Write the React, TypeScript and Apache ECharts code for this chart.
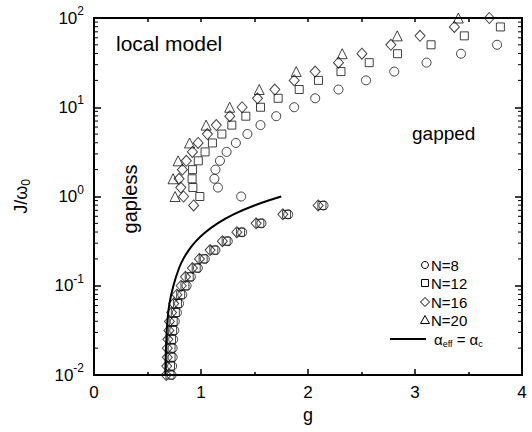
import React, { useEffect, useRef } from "react";
import * as echarts from "echarts";

const FONT = "'Liberation Sans', Arial, Helvetica, sans-serif";

// lower (gapless/gapped boundary) branch, J/omega0 values
const lowerJ = [0.01, 0.0126, 0.0158, 0.02, 0.0251, 0.0316, 0.0398, 0.0501, 0.0631, 0.0794, 0.1, 0.126, 0.158, 0.2, 0.251, 0.316, 0.398, 0.501, 0.631, 0.794];
const lowerG8 = [0.725, 0.73, 0.735, 0.735, 0.74, 0.75, 0.755, 0.775, 0.795, 0.825, 0.865, 0.905, 0.97, 1.035, 1.135, 1.25, 1.385, 1.565, 1.815, 2.145];
const lowerG12 = [0.71, 0.715, 0.72, 0.72, 0.725, 0.735, 0.74, 0.76, 0.78, 0.81, 0.85, 0.89, 0.955, 1.02, 1.12, 1.235, 1.37, 1.55, 1.8, 2.13];
const lowerG16 = [0.675, 0.68, 0.685, 0.685, 0.69, 0.7, 0.705, 0.725, 0.745, 0.775, 0.815, 0.855, 0.92, 0.985, 1.085, 1.2, 1.335, 1.515, 1.765, 2.095];

// upper branch
const upperJ8 = [1.0, 1.26, 1.58, 2, 2.51, 3.16, 3.98, 5.01, 6.31, 7.94, 10, 12.6, 15.8, 20, 25.1, 31.6, 39.8, 50.1];
const upperG8 = [1.375, 1.158, 1.125, 1.135, 1.177, 1.239, 1.326, 1.434, 1.556, 1.703, 1.871, 2.067, 2.285, 2.542, 2.806, 3.108, 3.43, 3.767];
const upperJ12 = [1, 1.26, 1.58, 2, 2.51, 3.16, 3.98, 5.01, 6.31, 7.94, 10, 12.6, 15.8, 20, 25.1, 31.6, 39.8, 50.1, 63.1, 79.4];
const upperG12 = [0.989, 0.924, 0.917, 0.921, 0.975, 1.038, 1.107, 1.195, 1.288, 1.419, 1.556, 1.721, 1.918, 2.098, 2.308, 2.572, 2.837, 3.15, 3.461, 3.798];
const upperJ16 = [0.794, 1, 1.26, 1.58, 2, 2.51, 3.16, 3.98, 5.01, 6.31, 7.94, 10, 12.6, 15.8, 20, 25.1, 31.6, 39.8, 50.1, 63.1, 79.4, 100];
const upperG16 = [0.931, 0.837, 0.811, 0.795, 0.826, 0.863, 0.92, 0.973, 1.06, 1.143, 1.269, 1.384, 1.528, 1.69, 1.871, 2.067, 2.285, 2.504, 2.775, 3.047, 3.368, 3.695];
const upperJ20 = [1, 1.58, 2.51, 3.98, 6.31, 10, 15.8, 25.1, 39.8, 63.1, 100];
const upperG20 = [0.758, 0.739, 0.786, 0.893, 1.048, 1.268, 1.544, 1.89, 2.32, 2.834, 3.405];

// alpha_eff = alpha_c curve
const curveG = [0.666, 0.67, 0.676, 0.686, 0.705, 0.742, 0.795, 0.835, 0.886, 0.953, 1.041, 1.155, 1.304, 1.498, 1.75];
const curveJ = [0.01, 0.0158, 0.0251, 0.0398, 0.0631, 0.1, 0.158, 0.2, 0.251, 0.316, 0.398, 0.501, 0.631, 0.794, 1.0];

// log-axis minor tick positions
const yMinorTicks = [0.02, 0.03, 0.04, 0.05, 0.06, 0.07, 0.08, 0.09, 0.2, 0.3, 0.4, 0.5, 0.6, 0.7, 0.8, 0.9, 2, 3, 4, 5, 6, 7, 8, 9, 20, 30, 40, 50, 60, 70, 80, 90];

const legendLabels = ["N=8", "N=12", "N=16", "N=20"];

const zip = (g: number[], j: number[]) => g.map((v, i) => [v, j[i]]);

export default function App() {
  const ref = useRef<HTMLDivElement>(null);
  useEffect(() => {
    if (!ref.current) return;
    const chart = echarts.init(ref.current, undefined, { renderer: "svg" });
    const mk = { color: "transparent", borderColor: "#111", borderWidth: 1 };
    const scatterBase = { type: "scatter", clip: false, itemStyle: mk, silent: true };
    const lx = 425;
    const rows = [265, 283, 302, 320];
    const option: any = {
      animation: false,
      backgroundColor: "#fff",
      grid: { left: 94, right: 10, top: 18, bottom: 57 },
      xAxis: [
        {
          type: "value", min: 0, max: 4, interval: 1, position: "bottom",
          name: "g", nameLocation: "middle", nameGap: 28,
          nameTextStyle: { fontFamily: FONT, fontSize: 18, color: "#000" },
          axisLine: { show: true, onZero: false, lineStyle: { color: "#000", width: 2 } },
          axisTick: { show: true, inside: true, length: 6, lineStyle: { color: "#000", width: 1.5 } },
          minorTick: { show: true, splitNumber: 2, length: 3, lineStyle: { color: "#000", width: 1.5 } },
          axisLabel: { fontFamily: FONT, fontSize: 17, color: "#000", margin: 9 },
          splitLine: { show: false },
        },
        {
          type: "value", min: 0, max: 4, interval: 0.5, position: "top",
          axisLine: { show: true, onZero: false, lineStyle: { color: "#000", width: 2 } },
          axisTick: { show: true, inside: true, length: 4, lineStyle: { color: "#000", width: 1.5 } },
          axisLabel: { show: false },
          splitLine: { show: false },
        },
      ],
      yAxis: [
        {
          type: "log", logBase: 10, min: 0.01, max: 100, interval: 1, position: "left",
          name: "{a|J/ω}{b|0}", nameLocation: "middle", nameRotate: 90, nameGap: 62,
          nameTextStyle: {
            color: "#000",
            rich: {
              a: { fontFamily: FONT, fontSize: 18, lineHeight: 22, color: "#000" },
              b: { fontFamily: FONT, fontSize: 12, lineHeight: 12, verticalAlign: "bottom", color: "#000" },
            },
          },
          axisLine: { show: true, onZero: false, lineStyle: { color: "#000", width: 2 } },
          axisTick: { show: true, inside: true, length: 7, lineStyle: { color: "#000", width: 1.5 } },
          axisLabel: {
            margin: 10,
            formatter: (v: number) => `{b|10}{s|${Math.round(Math.log10(v))}}`,
            rich: {
              b: { fontFamily: FONT, fontSize: 17, lineHeight: 26, color: "#000" },
              s: { fontFamily: FONT, fontSize: 12, lineHeight: 12, verticalAlign: "top", color: "#000" },
            },
          },
          splitLine: { show: false },
        },
        {
          type: "log", logBase: 10, min: 0.01, max: 100, interval: 1, position: "right",
          axisLine: { show: true, onZero: false, lineStyle: { color: "#000", width: 2 } },
          axisTick: { show: true, inside: true, length: 7, lineStyle: { color: "#000", width: 1.5 } },
          axisLabel: { show: false },
          splitLine: { show: false },
        },
      ],
      series: [
        {
          type: "custom",
          xAxisIndex: 0, yAxisIndex: 0, silent: true, clip: false,
          data: yMinorTicks.map((v) => [0, v]),
          encode: { x: 0, y: 1 },
          renderItem: (params: any, api: any) => {
            const y = api.coord([0, api.value(1)])[1];
            const cs = params.coordSys;
            const st = { stroke: "#000", lineWidth: 1 };
            return {
              type: "group",
              children: [
                { type: "line", shape: { x1: cs.x, y1: y, x2: cs.x + 4, y2: y }, style: st },
                { type: "line", shape: { x1: cs.x + cs.width - 4, y1: y, x2: cs.x + cs.width, y2: y }, style: st },
              ],
            };
          },
        },
        {
          type: "line", name: "curve", data: zip(curveG, curveJ), showSymbol: false, smooth: 0.4,
          lineStyle: { color: "#000", width: 2 }, silent: true,
        },
        { ...scatterBase, name: "N=8", symbol: "circle", symbolSize: 9, data: [...zip(lowerG8, lowerJ), ...zip(upperG8, upperJ8)] },
        { ...scatterBase, name: "N=12", symbol: "rect", symbolSize: 8, data: [...zip(lowerG12, lowerJ), ...zip(upperG12, upperJ12)] },
        { ...scatterBase, name: "N=16", symbol: "diamond", symbolSize: [10, 11], data: [...zip(lowerG16, lowerJ), ...zip(upperG16, upperJ16)] },
        { ...scatterBase, name: "N=20", symbol: "triangle", symbolSize: 10, data: zip(upperG20, upperJ20) },
      ],
      graphic: [
        { type: "text", left: 116, top: 33, style: { text: "local model", fontFamily: FONT, fontSize: 21, fill: "#000" } },
        { type: "text", left: 412, top: 124, style: { text: "gapped", fontFamily: FONT, fontSize: 19, fill: "#000" } },
        {
          type: "text", x: 130, y: 199, rotation: Math.PI / 2,
          style: { text: "gapless", fontFamily: FONT, fontSize: 20, fill: "#000", align: "center", verticalAlign: "middle" },
        },
        { type: "circle", shape: { cx: lx, cy: rows[0], r: 3.5 }, style: { fill: "none", stroke: "#000", lineWidth: 1 } },
        { type: "rect", shape: { x: lx - 3.5, y: rows[1] - 3.5, width: 7, height: 7 }, style: { fill: "none", stroke: "#000", lineWidth: 1 } },
        { type: "polygon", shape: { points: [[lx, rows[2] - 4.5], [lx + 4.5, rows[2]], [lx, rows[2] + 4.5], [lx - 4.5, rows[2]]] }, style: { fill: "none", stroke: "#000", lineWidth: 1 } },
        { type: "polygon", shape: { points: [[lx, rows[3] - 4.5], [lx + 4.5, rows[3] + 3.5], [lx - 4.5, rows[3] + 3.5]] }, style: { fill: "none", stroke: "#000", lineWidth: 1 } },
        ...legendLabels.map((t, i) => ({
          type: "text", x: 431, y: rows[i],
          style: { text: t, fontFamily: FONT, fontSize: 15, fill: "#000", verticalAlign: "middle" },
        })),
        { type: "line", shape: { x1: 390, y1: 339, x2: 426, y2: 339 }, style: { stroke: "#000", lineWidth: 2 } },
        {
          type: "text", x: 434, y: 339,
          style: {
            text: "{a|α}{s|eff}{a| = α}{s|c}",
            verticalAlign: "middle",
            rich: {
              a: { fontFamily: FONT, fontSize: 15, lineHeight: 18, fill: "#000", color: "#000" },
              s: { fontFamily: FONT, fontSize: 9, lineHeight: 9, verticalAlign: "bottom", fill: "#000", color: "#000" },
            },
          },
        },
      ],
    };
    chart.setOption(option);
    return () => chart.dispose();
  }, []);
  return <div ref={ref} style={{ position: "absolute", left: 0, top: 0, width: 532, height: 432 }} />;
}
